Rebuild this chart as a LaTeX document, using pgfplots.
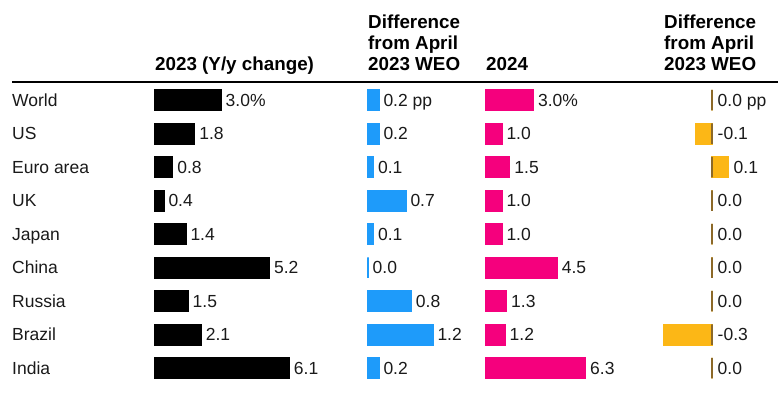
\documentclass[border=0pt]{standalone}
\usepackage{fontspec}
\setmainfont{Liberation Sans}
\usepackage{pgfplots}
\pgfplotsset{compat=1.18}
\definecolor{cblue}{HTML}{1E9BFA}
\definecolor{cpink}{HTML}{F5007D}
\definecolor{corange}{HTML}{FCB716}
\definecolor{cbrown}{HTML}{8C6928}
\definecolor{txt}{HTML}{1A1A1A}
\newcommand{\lblfont}{\fontsize{17.5}{21}\selectfont}
\newcommand{\hdrfont}{\bfseries\fontsize{18.8}{21}\selectfont}
\pgfplotsset{
  panel/.style={scale only axis, height=301.5pt, ymin=-0.5, ymax=8.5,
    y dir=reverse, hide axis, clip=false, anchor=south west},
  barstyle/.style={xbar, bar width=20.5pt, bar shift=0pt, line width=1.5pt},
  lbl/.style={draw=none, mark=none, point meta=explicit symbolic,
    nodes near coords={\pgfplotspointmeta},
    every node near coord/.style={anchor=base west, xshift=#1, yshift=-6.3pt,
      inner sep=0pt, font=\lblfont, text=txt}},
}
\begin{document}
\begin{tikzpicture}
\path[use as bounding box] (0,0) rectangle (778pt,393pt);
% header texts
\node[anchor=base west, inner sep=0pt, font=\hdrfont] at (155pt,322.5pt) {2023 (Y/y change)};
\node[anchor=base west, inner sep=0pt, font=\hdrfont] at (368pt,364.5pt) {Difference};
\node[anchor=base west, inner sep=0pt, font=\hdrfont] at (368pt,343.5pt) {from April};
\node[anchor=base west, inner sep=0pt, font=\hdrfont] at (368pt,322.5pt) {2023 WEO};
\node[anchor=base west, inner sep=0pt, font=\hdrfont] at (486pt,322.5pt) {2024};
\node[anchor=base west, inner sep=0pt, font=\hdrfont] at (664pt,364.5pt) {Difference};
\node[anchor=base west, inner sep=0pt, font=\hdrfont] at (664pt,343.5pt) {from April};
\node[anchor=base west, inner sep=0pt, font=\hdrfont] at (664pt,322.5pt) {2023 WEO};
\draw[line width=2.2pt, black] (12pt,311pt) -- (778pt,311pt);
% country names
\foreach \n [count=\i from 0] in {World,US,Euro area,UK,Japan,China,Russia,Brazil,India}
  \node[anchor=base west, inner sep=0pt, font=\lblfont, text=txt] at (12pt,{286.7pt-33.5pt*\i}) {\n};

% Panel 1: 2023
\begin{axis}[panel, at={(155pt,8.25pt)}, width=220pt, xmin=0, xmax=10]
\addplot[barstyle, fill=black, draw=black] coordinates {
 (3.0,0) (1.8,1) (0.8,2) (0.4,3) (1.4,4) (5.2,5) (1.5,6) (2.1,7) (6.1,8)};
\addplot[lbl=4.5pt] coordinates {
 (3.0,0) [3.0\%] (1.8,1) [1.8] (0.8,2) [0.8] (0.4,3) [0.4] (1.4,4) [1.4]
 (5.2,5) [5.2] (1.5,6) [1.5] (2.1,7) [2.1] (6.1,8) [6.1]};
\end{axis}

% Panel 2: difference 2023
\begin{axis}[panel, at={(368pt,8.25pt)}, width=108pt, xmin=0, xmax=2]
\addplot[barstyle, fill=cblue, draw=cblue] coordinates {
 (0.2,0) (0.2,1) (0.1,2) (0.7,3) (0.1,4) (0.0,5) (0.8,6) (1.2,7) (0.2,8)};
\addplot[lbl=4.5pt] coordinates {
 (0.2,0) [0.2 pp] (0.2,1) [0.2] (0.1,2) [0.1] (0.7,3) [0.7] (0.1,4) [0.1]
 (0.0,5) [0.0] (0.8,6) [0.8] (1.2,7) [1.2] (0.2,8) [0.2]};
\end{axis}

% Panel 3: 2024
\begin{axis}[panel, at={(486pt,8.25pt)}, width=126.4pt, xmin=0, xmax=8]
\addplot[barstyle, fill=cpink, draw=cpink] coordinates {
 (3.0,0) (1.0,1) (1.5,2) (1.0,3) (1.0,4) (4.5,5) (1.3,6) (1.2,7) (6.3,8)};
\addplot[lbl=4.5pt] coordinates {
 (3.0,0) [3.0\%] (1.0,1) [1.0] (1.5,2) [1.5] (1.0,3) [1.0] (1.0,4) [1.0]
 (4.5,5) [4.5] (1.3,6) [1.3] (1.2,7) [1.2] (6.3,8) [6.3]};
\end{axis}

% Panel 4: difference 2024
\begin{axis}[panel, at={(648pt,8.25pt)}, width=128pt, xmin=-0.4, xmax=0.4]
\addplot[barstyle, fill=corange, draw=corange] coordinates {
 (0.0,0) (-0.1,1) (0.1,2) (0.0,3) (0.0,4) (0.0,5) (0.0,6) (-0.3,7) (0.0,8)};
\addplot[barstyle, fill=none, draw=cbrown, line width=1.8pt] coordinates {
 (0,0) (0,1) (0,2) (0,3) (0,4) (0,5) (0,6) (0,7) (0,8)};
\addplot[lbl=5.5pt] coordinates {
 (0,0) [0.0 pp] (0,1) [-0.1] (0.1,2) [0.1] (0,3) [0.0] (0,4) [0.0]
 (0,5) [0.0] (0,6) [0.0] (0,7) [-0.3] (0,8) [0.0]};
\end{axis}
\end{tikzpicture}
\end{document}
